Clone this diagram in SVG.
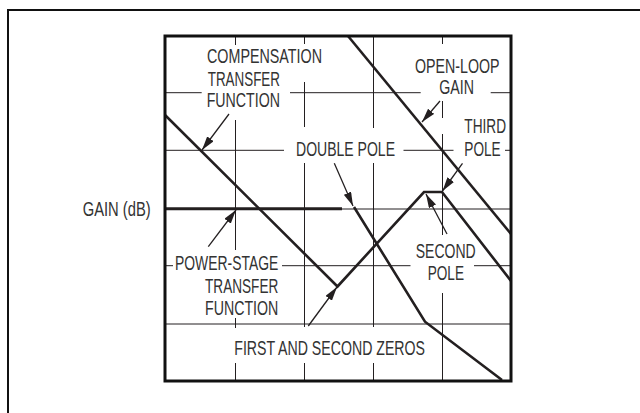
<svg xmlns="http://www.w3.org/2000/svg" width="640" height="413" viewBox="0 0 640 413">
<defs>
<marker id="ah" viewBox="0 0 14 8" refX="14" refY="4" markerWidth="14" markerHeight="8" markerUnits="userSpaceOnUse" orient="auto">
<path d="M0,0 L14,4 L0,8 z" fill="#231f20"/>
</marker>
<style>
.grid{stroke:#231f20;stroke-width:1;fill:none}
.curve{stroke:#231f20;stroke-width:2.6;fill:none;stroke-linejoin:miter}
.arrow{stroke:#231f20;stroke-width:1.3;fill:none;marker-end:url(#ah)}
.lbl{font-family:"Liberation Sans Narrow","Liberation Sans",Arial,sans-serif;font-size:19.5px;fill:#333}
</style>
</defs>
<rect width="640" height="413" fill="#fff"/>
<rect id="frame" x="8" y="10" width="640" height="420" fill="none" stroke="#111" stroke-width="2"/>

<g id="grid" class="grid">
<path d="M235.5,36V45M235.5,120V250M235.5,318V328M235.5,363V381"/>
<path d="M304.5,36V44M304.5,82V127M304.5,163V327M304.5,363V381"/>
<path d="M373.5,36V128M373.5,163V327M373.5,363V381"/>
<path d="M442.5,36V44M442.5,101V118M442.5,134V235M442.5,293V381"/>
<path d="M165,92.7H201.7M290,92.7H420.7M490.7,92.7H511"/>
<path d="M165,150.3H284M403.5,150.3H453.5M505,150.3H511"/>
<path d="M165,209H511"/>
<path d="M165,265.7H173M282,265.7H410.5M474,265.7H511"/>
<path d="M165,324H511"/>
</g>

<g id="curves">
<polyline id="compensation" class="curve" points="165,115 337.5,286.5 424,192 442,192 511,281"/>
<polyline id="open-loop" class="curve" points="348,36 511,234"/>
<line id="power-stage-flat" x1="165" y1="208.8" x2="342" y2="208.8" stroke="#231f20" stroke-width="3"/>
<polyline id="power-stage-slope" class="curve" points="354,207 425,321.7 502,380"/>
</g>

<rect id="plot" x="165" y="36" width="346" height="345" fill="none" stroke="#111" stroke-width="3"/>

<g id="connectors">
<line class="arrow" x1="229" y1="114" x2="202" y2="150"/>
<line class="arrow" x1="334.3" y1="163.3" x2="353" y2="206"/>
<line class="arrow" x1="440" y1="101" x2="422" y2="122"/>
<line class="arrow" x1="462.5" y1="163.3" x2="442.5" y2="191"/>
<line class="arrow" x1="447" y1="234" x2="426" y2="194"/>
<line class="arrow" x1="208.3" y1="246.7" x2="236" y2="210"/>
<line class="arrow" x1="308.3" y1="326" x2="337" y2="287"/>
</g>

<g id="label-compensation" class="lbl">
<text x="207" y="63.3" textLength="115" lengthAdjust="spacingAndGlyphs">COMPENSATION</text>
<text x="207.7" y="85.7" textLength="72.3" lengthAdjust="spacingAndGlyphs">TRANSFER</text>
<text x="206.7" y="107.3" textLength="73.3" lengthAdjust="spacingAndGlyphs">FUNCTION</text>
</g>
<g id="label-double-pole" class="lbl">
<text x="296" y="156" textLength="99" lengthAdjust="spacingAndGlyphs">DOUBLE POLE</text>
</g>
<g id="label-open-loop" class="lbl">
<text x="415" y="72.5" textLength="84.5" lengthAdjust="spacingAndGlyphs">OPEN-LOOP</text>
<text x="439.3" y="94.3" textLength="34.7" lengthAdjust="spacingAndGlyphs">GAIN</text>
</g>
<g id="label-third-pole" class="lbl">
<text x="464.3" y="133.3" textLength="41.7" lengthAdjust="spacingAndGlyphs">THIRD</text>
<text x="464.3" y="156" textLength="36.4" lengthAdjust="spacingAndGlyphs">POLE</text>
</g>
<g id="label-second-pole" class="lbl">
<text x="415.7" y="258.3" textLength="60" lengthAdjust="spacingAndGlyphs">SECOND</text>
<text x="427.7" y="280" textLength="36.3" lengthAdjust="spacingAndGlyphs">POLE</text>
</g>
<g id="label-power-stage" class="lbl">
<text x="175" y="270" textLength="103.3" lengthAdjust="spacingAndGlyphs">POWER-STAGE</text>
<text x="205" y="293.3" textLength="73.3" lengthAdjust="spacingAndGlyphs">TRANSFER</text>
<text x="205" y="315" textLength="73.3" lengthAdjust="spacingAndGlyphs">FUNCTION</text>
</g>
<g id="label-zeros" class="lbl">
<text x="234.3" y="355" textLength="190.7" lengthAdjust="spacingAndGlyphs">FIRST AND SECOND ZEROS</text>
</g>
<g id="label-gain" class="lbl">
<text x="82.7" y="215.5" textLength="68" lengthAdjust="spacingAndGlyphs">GAIN (dB)</text>
</g>
</svg>
